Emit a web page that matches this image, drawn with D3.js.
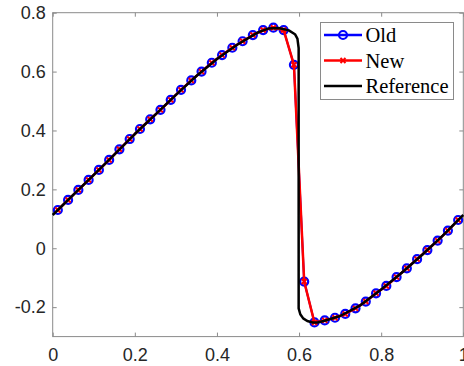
<!DOCTYPE html>
<html>
<head>
<meta charset="utf-8">
<script src="https://cdn.jsdelivr.net/npm/d3@7"></script>
<style>
  html, body { margin: 0; padding: 0; background: #fff; }
  svg { display: block; }
</style>
</head>
<body>
<div id="chart"></div>
<script>
// Cell centres (40 cells on [0,1])
const cellX = [
  0.0125, 0.0375, 0.0625, 0.0875, 0.1125, 0.1375, 0.1625, 0.1875, 0.2125, 0.2375,
  0.2625, 0.2875, 0.3125, 0.3375, 0.3625, 0.3875, 0.4125, 0.4375, 0.4625, 0.4875,
  0.5125, 0.5375, 0.5625, 0.5875, 0.6125, 0.6375, 0.6625, 0.6875, 0.7125, 0.7375,
  0.7625, 0.7875, 0.8125, 0.8375, 0.8625, 0.8875, 0.9125, 0.9375, 0.9625, 0.9875,
];
const oldValues = [
  0.130, 0.164, 0.198, 0.232, 0.266, 0.300, 0.336, 0.371, 0.405, 0.438,
  0.470, 0.504, 0.538, 0.570, 0.600, 0.630, 0.656, 0.681, 0.703, 0.724,
  0.741, 0.749, 0.741, 0.623, -0.113, -0.252, -0.245, -0.236, -0.223, -0.204,
  -0.181, -0.153, -0.128, -0.098, -0.068, -0.037, -0.006, 0.026, 0.060, 0.096,
];
const newValues = [
  0.130, 0.164, 0.198, 0.232, 0.266, 0.300, 0.336, 0.371, 0.405, 0.438,
  0.470, 0.504, 0.538, 0.570, 0.600, 0.630, 0.656, 0.681, 0.703, 0.724,
  0.741, 0.749, 0.741, 0.623, -0.113, -0.252, -0.245, -0.236, -0.223, -0.204,
  -0.181, -0.153, -0.128, -0.098, -0.068, -0.037, -0.006, 0.026, 0.060, 0.096,
];
// Reference solution
const refX = [
  0, 0.05, 0.1, 0.15, 0.2, 0.25, 0.3, 0.35, 0.4, 0.45, 0.5, 0.525, 0.55, 0.575,
  0.59, 0.596, 0.599, 0.599, 0.603, 0.61, 0.62, 0.633, 0.645, 0.66, 0.7, 0.75,
  0.8, 0.85, 0.9, 0.95, 1.0,
];
const refY = [
  0.113, 0.181, 0.249, 0.318, 0.388, 0.454, 0.521, 0.585, 0.643, 0.692, 0.733, 0.746, 0.748, 0.740,
  0.727, 0.712, 0.68, -0.204, -0.224, -0.238, -0.247, -0.252, -0.252, -0.247, -0.230, -0.193,
  -0.140, -0.083, -0.022, 0.043, 0.113,
];
const xTicks = [0, 0.2, 0.4, 0.6, 0.8, 1];
const yTicks = [-0.2, 0, 0.2, 0.4, 0.6, 0.8];
const legendLabels = ["Old", "New", "Reference"];

const width = 464, height = 366;
const margin = {top: 12.7, right: 0.7, bottom: 29.4, left: 52.7};

const x = d3.scaleLinear().domain([0, 1]).range([margin.left, width - margin.right]);
const y = d3.scaleLinear().domain([-0.3, 0.8]).range([height - margin.bottom, margin.top]);

const svg = d3.create("svg")
  .attr("viewBox", [0, 0, width, height])
  .attr("width", width)
  .attr("height", height);

const axisColor = "#8a8a8a";
const textColor = "#262626";
const tickLen = 4;
const fmt = d => String(+d.toFixed(1));  // plain hyphen minus, like the original

// Box
svg.append("rect")
  .attr("x", x(0)).attr("y", y(0.8))
  .attr("width", x(1) - x(0)).attr("height", y(-0.3) - y(0.8))
  .attr("fill", "none").attr("stroke", axisColor).attr("stroke-width", 1);

// Axes (ticks inside, on all four sides)
const xAxisB = d3.axisBottom(x).tickValues(xTicks).tickSizeInner(-tickLen).tickSizeOuter(0)
  .tickPadding(12).tickFormat(fmt);
const xAxisT = d3.axisTop(x).tickValues(xTicks).tickSizeInner(-tickLen).tickSizeOuter(0).tickFormat("");
const yAxisL = d3.axisLeft(y).tickValues(yTicks).tickSizeInner(-tickLen).tickSizeOuter(0)
  .tickPadding(7).tickFormat(fmt);
const yAxisR = d3.axisRight(y).tickValues(yTicks).tickSizeInner(-tickLen).tickSizeOuter(0).tickFormat("");

function styleAxis(g) {
  g.select(".domain").remove();
  g.selectAll(".tick line").attr("stroke", axisColor);
  g.selectAll(".tick text")
    .attr("fill", textColor)
    .style("font-family", "'Liberation Sans', Arial, sans-serif")
    .style("font-size", "18px");
}

svg.append("g").attr("transform", `translate(0,${y(-0.3)})`).call(xAxisB).call(styleAxis)
  .selectAll(".tick text").attr("dy", "0.71em");
svg.append("g").attr("transform", `translate(0,${y(0.8)})`).call(xAxisT).call(styleAxis);
svg.append("g").attr("transform", `translate(${x(0)},0)`).call(yAxisL).call(styleAxis);
svg.append("g").attr("transform", `translate(${x(1)},0)`).call(yAxisR).call(styleAxis);

// Series
const oldData = cellX.map((d, i) => ({x: d, y: oldValues[i]}));
const newData = cellX.map((d, i) => ({x: d, y: newValues[i]}));
const refData = refX.map((d, i) => ({x: d, y: refY[i]}));

const line = d3.line().x(d => x(d.x)).y(d => y(d.y));

function xMark(g, cx, cy, s) {
  g.append("path")
    .attr("d", `M${cx - s},${cy - s}L${cx + s},${cy + s}M${cx - s},${cy + s}L${cx + s},${cy - s}`)
    .attr("stroke", "#ff0000").attr("stroke-width", 2).attr("fill", "none");
}

// Old: blue line with circles
svg.append("path").datum(oldData)
  .attr("d", line).attr("fill", "none").attr("stroke", "#0000ff").attr("stroke-width", 2);
svg.append("g").selectAll("circle").data(oldData).join("circle")
  .attr("cx", d => x(d.x)).attr("cy", d => y(d.y)).attr("r", 4)
  .attr("fill", "none").attr("stroke", "#0000ff").attr("stroke-width", 2.2);

// New: red line with crosses
svg.append("path").datum(newData)
  .attr("d", line).attr("fill", "none").attr("stroke", "#ff0000").attr("stroke-width", 2.5);
const newMarks = svg.append("g");
newData.forEach(d => xMark(newMarks, x(d.x), y(d.y), 2.5));

// Reference: black line
svg.append("path").datum(refData)
  .attr("d", line).attr("fill", "none").attr("stroke", "#000").attr("stroke-width", 2.5)
  .attr("stroke-linejoin", "round");

// Legend
const legend = svg.append("g");
legend.append("rect")
  .attr("x", 320.5).attr("y", 22.5).attr("width", 133).attr("height", 77)
  .attr("fill", "#fff").attr("stroke", axisColor).attr("stroke-width", 1);

const legendColors = ["#0000ff", "#ff0000", "#000"];
legendLabels.forEach((label, i) => {
  const ly = 35 + i * 25.5;
  const row = legend.append("g");
  row.append("line")
    .attr("x1", 324).attr("x2", 362).attr("y1", ly).attr("y2", ly)
    .attr("stroke", legendColors[i]).attr("stroke-width", 2.5);
  if (i === 0) {
    row.append("circle").attr("cx", 343).attr("cy", ly).attr("r", 4)
      .attr("fill", "none").attr("stroke", "#0000ff").attr("stroke-width", 2.2);
  } else if (i === 1) {
    xMark(row, 343, ly, 2.5);
  }
  row.append("text")
    .attr("x", 365.5).attr("y", ly + 7)
    .style("font-family", "'Liberation Serif', 'Times New Roman', serif")
    .style("font-size", "20.5px")
    .attr("fill", "#000")
    .text(label);
});

document.getElementById("chart").appendChild(svg.node());
</script>
</body>
</html>
